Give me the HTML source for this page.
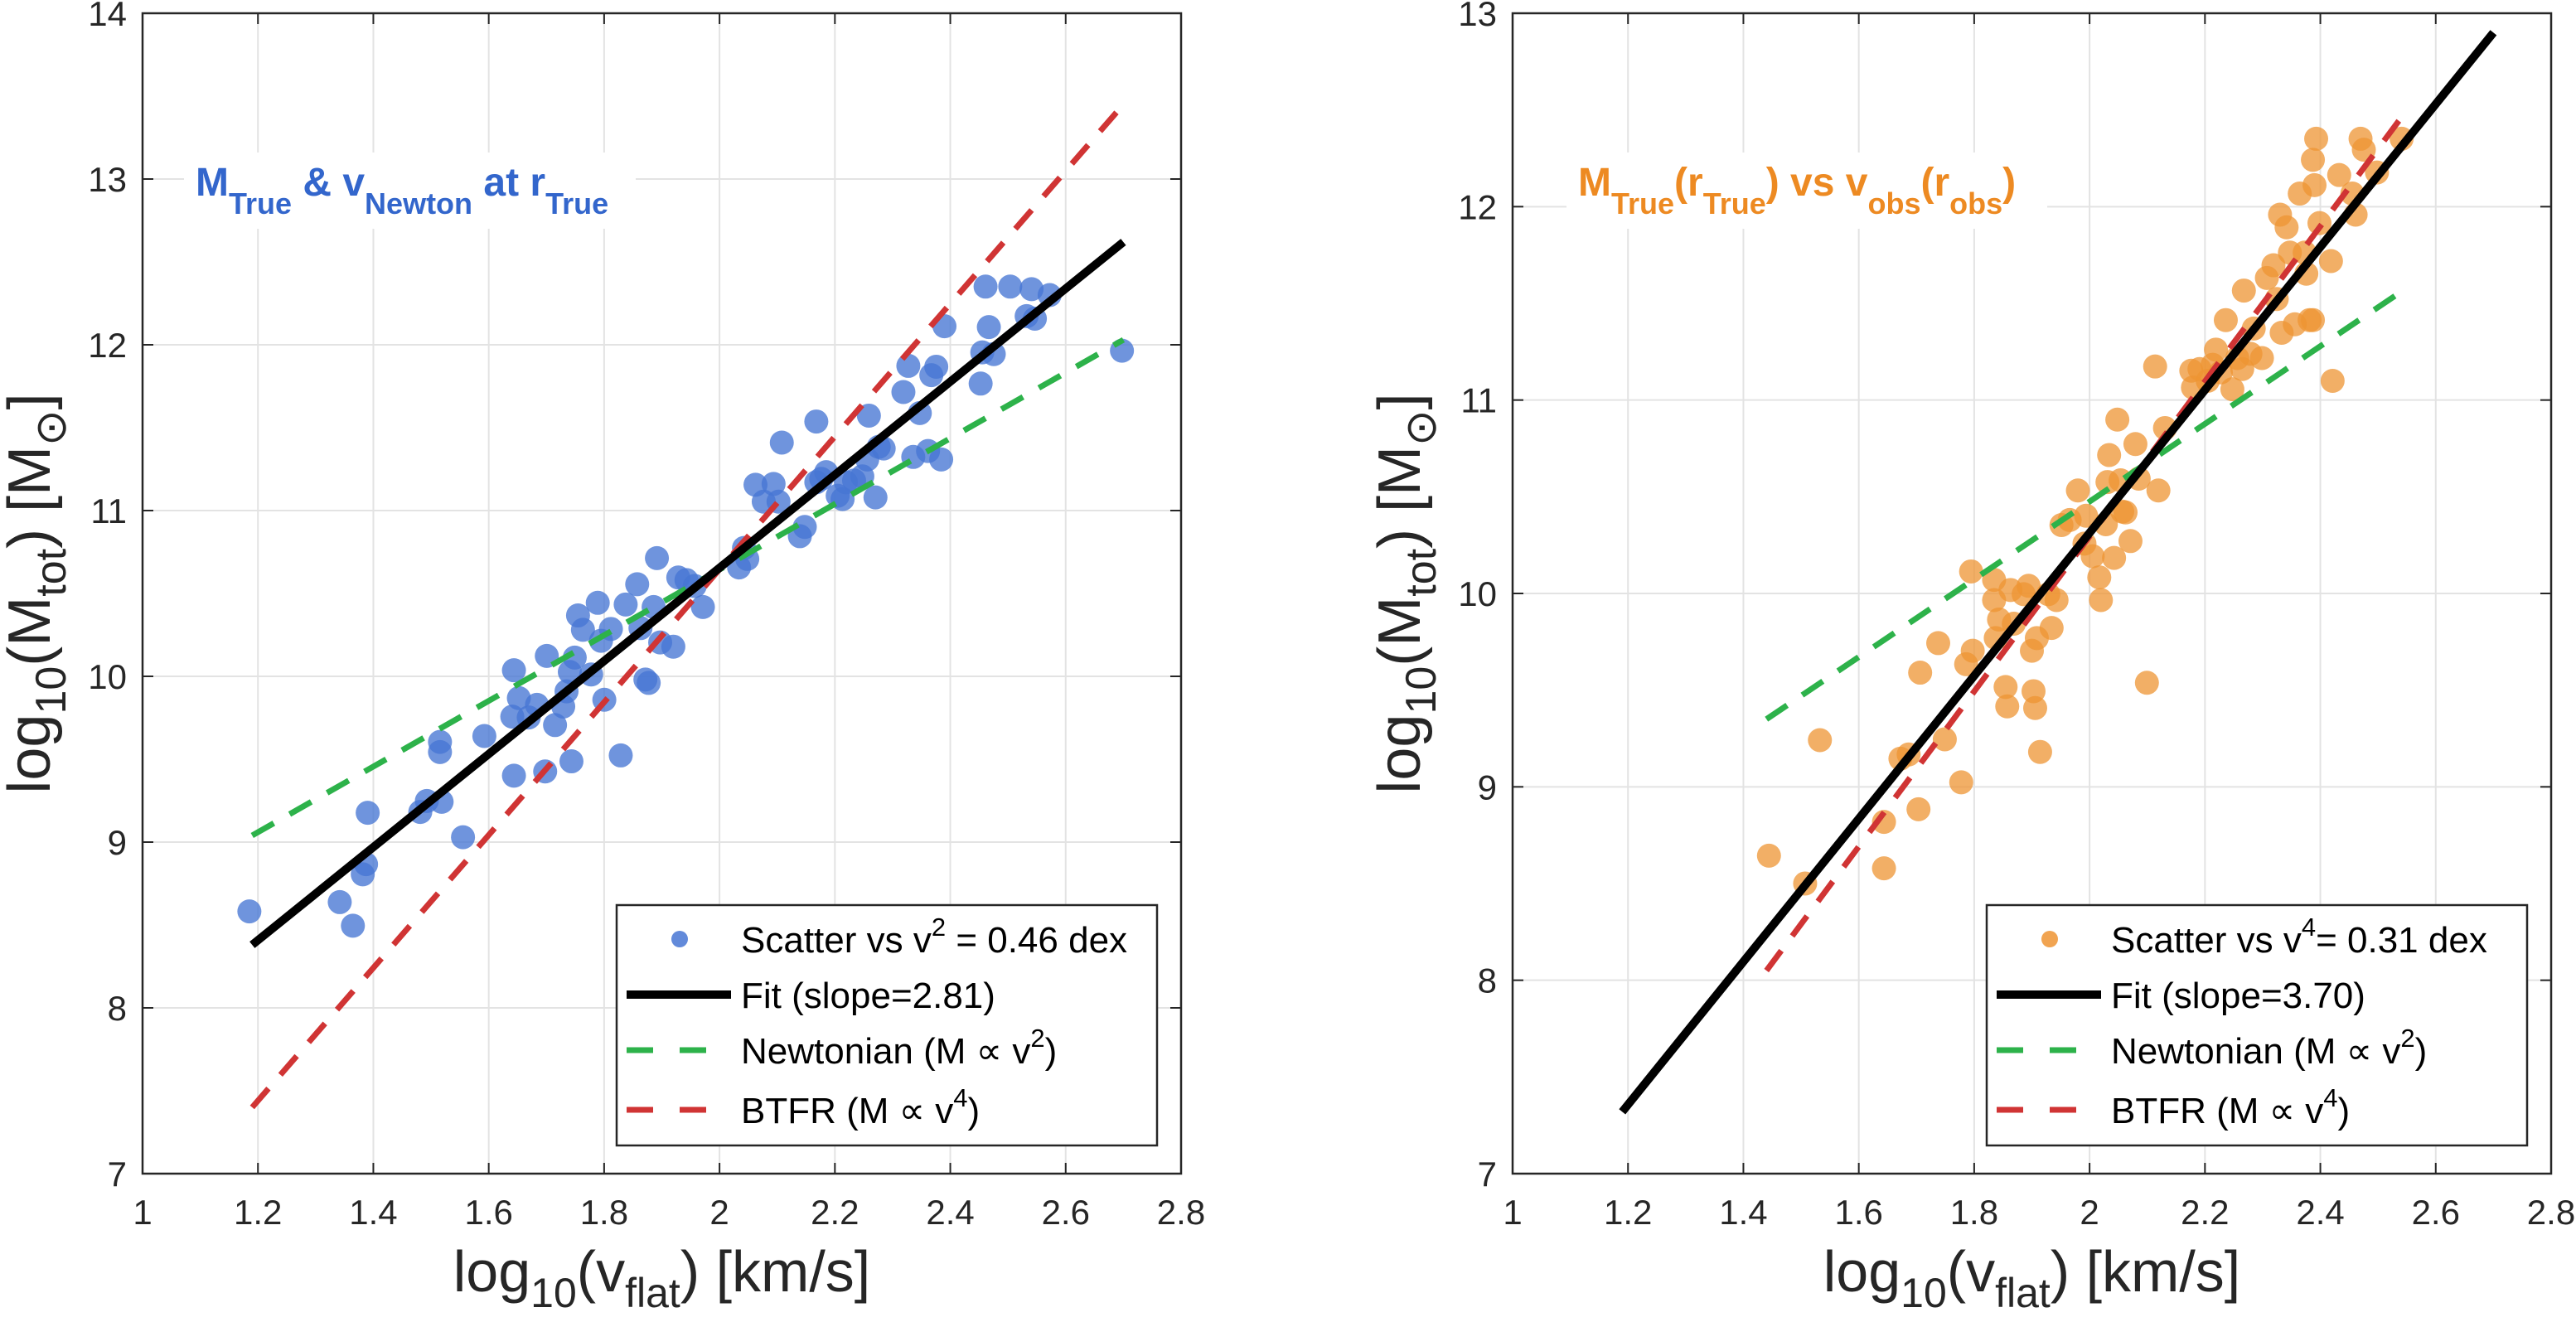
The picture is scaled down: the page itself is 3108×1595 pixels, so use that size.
<!DOCTYPE html>
<html><head><meta charset="utf-8">
<style>
html,body{margin:0;padding:0;background:#fff;}
svg{display:block;font-family:"Liberation Sans",sans-serif;}
</style></head>
<body>
<svg id="s" width="3108" height="1595" viewBox="0 0 3108 1595" xmlns="http://www.w3.org/2000/svg"></svg>
<script>
const S=document.getElementById('s');
let h='';
function add(x){h+=x;}
const L={x0:172,x1:1425,y0:16,y1:1416,ymin:7,ymax:14};
const R={x0:1825,x1:3078,y0:16,y1:1416,ymin:7,ymax:13};
function px(A,x){return A.x0+(x-1)/1.8*(A.x1-A.x0);}
function py(A,y){return A.y1-(y-A.ymin)/(A.ymax-A.ymin)*(A.y1-A.y0);}
function axes(A,id){
  add(`<clipPath id="${id}"><rect x="${A.x0}" y="${A.y0}" width="${A.x1-A.x0}" height="${A.y1-A.y0}"/></clipPath>`);
  for(let i=1;i<9;i++){const x=A.x0+i*(A.x1-A.x0)/9;add(`<line x1="${x}" y1="${A.y0}" x2="${x}" y2="${A.y1}" stroke="#e3e3e3" stroke-width="2"/>`);}
  for(let v=A.ymin+1;v<A.ymax;v++){const y=py(A,v);add(`<line x1="${A.x0}" y1="${y}" x2="${A.x1}" y2="${y}" stroke="#e3e3e3" stroke-width="2"/>`);}
}
function axesTop(A){
  add(`<rect x="${A.x0}" y="${A.y0}" width="${A.x1-A.x0}" height="${A.y1-A.y0}" fill="none" stroke="#262626" stroke-width="2.5"/>`);
  const xl=['1','1.2','1.4','1.6','1.8','2','2.2','2.4','2.6','2.8'];
  for(let i=0;i<10;i++){const x=A.x0+i*(A.x1-A.x0)/9;
    add(`<line x1="${x}" y1="${A.y1}" x2="${x}" y2="${A.y1-13}" stroke="#262626" stroke-width="2"/>`);
    add(`<line x1="${x}" y1="${A.y0}" x2="${x}" y2="${A.y0+13}" stroke="#262626" stroke-width="2"/>`);
    add(`<text x="${x}" y="1477" font-size="42" fill="#262626" text-anchor="middle">${xl[i]}</text>`);}
  for(let v=A.ymin;v<=A.ymax;v++){const y=py(A,v);
    add(`<line x1="${A.x0}" y1="${y}" x2="${A.x0+13}" y2="${y}" stroke="#262626" stroke-width="2"/>`);
    add(`<line x1="${A.x1}" y1="${y}" x2="${A.x1-13}" y2="${y}" stroke="#262626" stroke-width="2"/>`);
    add(`<text x="${A.x0-19}" y="${y+15}" font-size="42" fill="#262626" text-anchor="end">${v}</text>`);}
  const cx=(A.x0+A.x1)/2;
  add(`<text x="${cx}" y="1558" font-size="70" fill="#262626" text-anchor="middle">log<tspan font-size="50" dy="19">10</tspan><tspan dy="-19">(v</tspan><tspan font-size="50" dy="19">flat</tspan><tspan dy="-19">) [km/s]</tspan></text>`);
  const ly=(A.y0+A.y1)/2, lx=A.x0-112;
  add(`<text transform="translate(${lx},${ly}) rotate(-90)" x="0" y="0" font-size="72" fill="#262626" text-anchor="middle">log<tspan font-size="52" dy="19">10</tspan><tspan dy="-19">(M</tspan><tspan font-size="52" dy="19">tot</tspan><tspan dy="-19">) [M</tspan><tspan font-size="52" dy="19">⊙</tspan><tspan dy="-19">]</tspan></text>`);
}
function line(A,id,x1,y1,x2,y2,col,w,dash){
  add(`<line clip-path="url(#${id})" x1="${px(A,x1)}" y1="${py(A,y1)}" x2="${px(A,x2)}" y2="${py(A,y2)}" stroke="${col}" stroke-width="${w}" ${dash?'stroke-dasharray="30 22"':''}/>`);
}
function dots(A,pts,conv,col,op){
  for(const p of pts){const d=conv(p);add(`<circle cx="${px(A,d[0])}" cy="${py(A,d[1])}" r="14.5" fill="${col}" fill-opacity="${op}"/>`);}
}
const Ld=[[152,1081],[207,1070],[215,1098],[221,1037],[223,1025],[224,964],[256,963],[260,950],[268,880],[268,892],[269,951],[282,993],[295,873],[313,920],[312,850],[313,795],[316,828],[322,851],[327,836],[332,915],[333,778],[338,860],[343,838],[345,820],[347,797],[348,903],[350,780],[352,730],[355,747],[360,800],[364,715],[366,760],[368,830],[372,746],[378,896],[381,717],[388,693],[390,745],[393,806],[395,810],[398,720],[400,662],[402,762],[410,767],[413,685],[418,688],[423,695],[428,720],[450,673],[453,650],[455,663],[460,575],[465,595],[471,574],[476,525],[474,595],[487,636],[490,625],[497,572],[497,500],[500,568],[503,560],[510,588],[513,592],[515,572],[520,570],[525,565],[528,545],[529,493],[533,590],[535,530],[538,532],[550,465],[553,434],[556,542],[560,490],[565,535],[567,445],[570,435],[573,545],[575,387],[597,455],[598,418],[600,340],[602,388],[605,420],[615,340],[625,375],[628,343],[630,378],[639,350],[683,416]];
const Rd=[[1075,1015],[1097,1048],[1106,878],[1145,975],[1145,1030],[1155,900],[1160,895],[1166,960],[1167,798],[1178,763],[1182,877],[1192,928],[1195,788],[1198,678],[1199,772],[1212,688],[1212,712],[1213,757],[1215,735],[1219,815],[1220,838],[1222,700],[1224,740],[1230,705],[1233,695],[1235,772],[1236,820],[1237,840],[1238,757],[1240,892],[1245,705],[1247,745],[1250,712],[1253,623],[1258,617],[1263,582],[1267,645],[1268,612],[1272,660],[1276,685],[1277,712],[1280,622],[1281,572],[1282,540],[1285,662],[1287,498],[1289,570],[1290,607],[1292,608],[1295,642],[1298,527],[1300,568],[1305,810],[1310,435],[1312,582],[1316,508],[1332,440],[1333,460],[1337,438],[1342,452],[1345,433],[1347,415],[1350,442],[1353,380],[1357,462],[1360,425],[1363,438],[1364,345],[1368,420],[1370,390],[1375,425],[1378,330],[1382,315],[1384,355],[1386,255],[1387,395],[1390,270],[1392,300],[1395,385],[1398,230],[1401,300],[1402,325],[1404,380],[1406,190],[1407,220],[1408,165],[1410,265],[1417,310],[1418,452],[1422,208],[1430,230],[1432,255],[1435,165],[1437,178],[1445,205],[1460,165],[1406,380]];
const cL=p=>[1+(p[0]-87)/351.1, 7+(1392-p[1])/196.6];
const cR=p=>[1+(p[0]-919)/351.1, 7+(1392-p[1])/229.3];

axes(L,'cl'); axes(R,'cr');
add(`<rect x="222" y="184" width="545" height="92" fill="#fff"/>`);
add(`<text x="236" y="236" font-size="48" font-weight="bold" fill="#3366cc">M<tspan font-size="36" dy="22">True</tspan><tspan dy="-22"> &amp; v</tspan><tspan font-size="36" dy="22">Newton</tspan><tspan dy="-22"> at r</tspan><tspan font-size="36" dy="22">True</tspan></text>`);
add(`<rect x="1890" y="184" width="580" height="92" fill="#fff"/>`);
add(`<text x="1904" y="236" font-size="48" font-weight="bold" fill="#ed8a22">M<tspan font-size="36" dy="22">True</tspan><tspan dy="-22">(r</tspan><tspan font-size="36" dy="22">True</tspan><tspan dy="-22">) vs v</tspan><tspan font-size="36" dy="22">obs</tspan><tspan dy="-22">(r</tspan><tspan font-size="36" dy="22">obs</tspan><tspan dy="-22">)</tspan></text>`);

dots(L,Ld,cL,'#4676d4',0.78);
line(L,'cl',1.19,9.04,2.7,12.03,'#2db24a',7,true);
line(L,'cl',1.19,7.4,2.7,13.45,'#d03434',7,true);
line(L,'cl',1.19,8.38,2.7,12.62,'#000',10,false);

dots(R,Rd,cR,'#ee9433',0.75);
line(R,'cr',1.44,9.35,2.55,11.58,'#2db24a',7,true);
line(R,'cr',1.44,8.05,2.55,12.5,'#d03434',7,true);
line(R,'cr',1.19,7.32,2.7,12.9,'#000',10,false);

function legend(ox,col,first){
  add(`<rect x="${ox}" y="1092" width="652" height="290" fill="#fff" stroke="#262626" stroke-width="2.5"/>`);
  const tx=ox+150, ys=[1133,1200,1267,1339];
  add(`<circle cx="${ox+76}" cy="${ys[0]}" r="10" fill="${col}" fill-opacity="0.85"/>`);
  add(`<line x1="${ox+12}" y1="${ys[1]}" x2="${ox+138}" y2="${ys[1]}" stroke="#000" stroke-width="10"/>`);
  add(`<line x1="${ox+12}" y1="${ys[2]}" x2="${ox+138}" y2="${ys[2]}" stroke="#2db24a" stroke-width="7" stroke-dasharray="32 32"/>`);
  add(`<line x1="${ox+12}" y1="${ys[3]}" x2="${ox+138}" y2="${ys[3]}" stroke="#d03434" stroke-width="7" stroke-dasharray="32 32"/>`);
  add(`<text x="${tx}" y="${ys[0]+16}" font-size="44" fill="#000">${first}</text>`);
  add(`<text x="${tx}" y="${ys[1]+16}" font-size="44" fill="#000">${ox<1000?'Fit (slope=2.81)':'Fit (slope=3.70)'}</text>`);
  add(`<text x="${tx}" y="${ys[2]+16}" font-size="44" fill="#000">Newtonian (M ∝ v<tspan font-size="31" dy="-20">2</tspan><tspan dy="20">)</tspan></text>`);
  add(`<text x="${tx}" y="${ys[3]+16}" font-size="44" fill="#000">BTFR (M ∝ v<tspan font-size="31" dy="-20">4</tspan><tspan dy="20">)</tspan></text>`);
}
axesTop(L); axesTop(R);
legend(744,'#4676d4','Scatter vs v<tspan font-size="31" dy="-20">2</tspan><tspan dy="20"> = 0.46 dex</tspan>');
legend(2397,'#ee9433','Scatter vs v<tspan font-size="31" dy="-20">4</tspan><tspan dy="20">= 0.31 dex</tspan>');
S.innerHTML=h;
</script>
</body></html>
